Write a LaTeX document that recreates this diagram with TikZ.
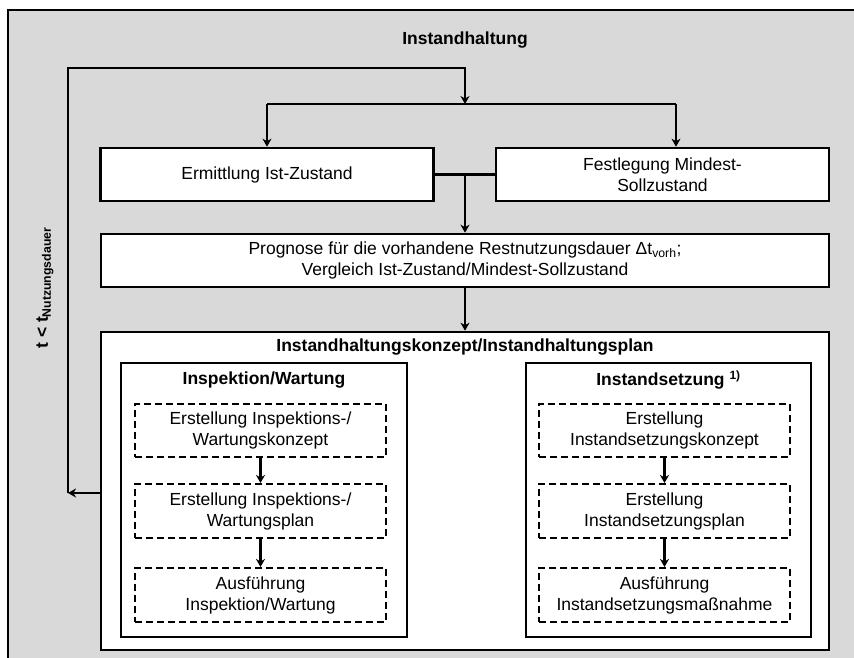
\documentclass[tikz,border=0pt]{standalone}
\usepackage{fontspec}
\setmainfont{Liberation Sans}
\usetikzlibrary{arrows.meta}
\definecolor{bggray}{RGB}{217,217,217}
\begin{document}
\begin{tikzpicture}[x=1pt,y=-1pt,
  txt/.style={font=\fontsize{17.5}{21}\selectfont},
  solidbox/.style={draw, line width=2.6pt, fill=white, inner sep=0pt, align=center, txt},
  dashbox/.style={draw, line width=2pt, dash pattern=on 7pt off 4pt, fill=white, inner sep=0pt, align=center, txt, minimum width=251pt},
  ln/.style={line width=2.8pt},
  arr/.style={ln, -{Stealth[length=8pt,width=9pt,inset=2.5pt]}},
  iarr/.style={line width=2.2pt, -{Stealth[length=8pt,width=9pt,inset=2.5pt]}},
  ttl/.style={font=\fontsize{17.5}{21}\selectfont\bfseries}
]
\clip (0,0) rectangle (854,658);
\fill[white] (0,0) rectangle (854,658);
\draw[line width=2.6pt, fill=bggray] (8,10) rectangle (900,700);

\node[ttl] (title) at (465,40) {Instandhaltung};

\node[solidbox, minimum width=333pt, minimum height=53pt] (erm) at (267,174.5) {Ermittlung Ist-Zustand};
\node[solidbox, minimum width=333pt, minimum height=53pt] (fest) at (662.5,174.5) {Festlegung Mindest-\\Sollzustand};
\node[solidbox, minimum width=728pt, minimum height=53pt] (prog) at (465,260.5) {Prognose für die vorhandene Restnutzungsdauer Δt\textsubscript{vorh};\\Vergleich Ist-Zustand/Mindest-Sollzustand};

\node[solidbox, minimum width=728pt, minimum height=318pt] (konz) at (465,491) {};
\node[ttl] (konzT) at (465,347) {Instandhaltungskonzept/Instandhaltungsplan};

\node[solidbox, minimum width=286pt, minimum height=274pt] (insp) at (264,500) {};
\node[ttl] (inspT) at (264,380) {Inspektion/Wartung};
\node[solidbox, minimum width=285pt, minimum height=274pt] (inst) at (668.5,500) {};
\node[ttl] (instT) at (668.5,380) {Instandsetzung \textsuperscript{\fontsize{12}{12}\selectfont 1)}};

\node[dashbox, minimum height=53pt] (a1) at (260.5,430.5) {Erstellung Inspektions-/\\Wartungskonzept};
\node[dashbox, minimum height=54pt] (a2) at (260.5,511) {Erstellung Inspektions-/\\Wartungsplan};
\node[dashbox, minimum height=54pt] (a3) at (260.5,595) {Ausführung\\Inspektion/Wartung};

\node[dashbox, minimum height=53pt] (b1) at (664.5,430.5) {Erstellung\\Instandsetzungskonzept};
\node[dashbox, minimum height=54pt] (b2) at (664.5,511) {Erstellung\\Instandsetzungsplan};
\node[dashbox, minimum height=54pt] (b3) at (664.5,595) {Ausführung\\Instandsetzungsmaßnahme};

\node[rotate=90, font=\fontsize{17.5}{21}\selectfont\bfseries] (tlabel) at (45,288) {t < t\textsubscript{Nutzungsdauer}};

% loop coordinates
\coordinate (loopB) at (68,493);
\coordinate (loopTL) at (68,68);
\coordinate (loopTR) at (465,68);
\coordinate (br) at (465,104);
\coordinate (brL) at (267,104);
\coordinate (brR) at (676,104);
\coordinate (jn) at (465,174.5);

\draw[arr] (konz.west |- loopB) -- (loopB);
\draw[arr] (loopB) -- (loopTL) -- (loopTR) -- (br);
\draw[ln] (brL) -- (brR);
\draw[arr] (brL) -- (erm.north);
\draw[arr] (brR) -- (brR |- fest.north);
\draw[ln] (erm.east) -- (fest.west);
\draw[arr] (jn) -- (prog.north);
\draw[arr] (prog.south) -- (konz.north);

\draw[iarr] (a1.south) -- (a2.north);
\draw[iarr] (a2.south) -- (a3.north);
\draw[iarr] (b1.south) -- (b2.north);
\draw[iarr] (b2.south) -- (b3.north);
\end{tikzpicture}
\end{document}
